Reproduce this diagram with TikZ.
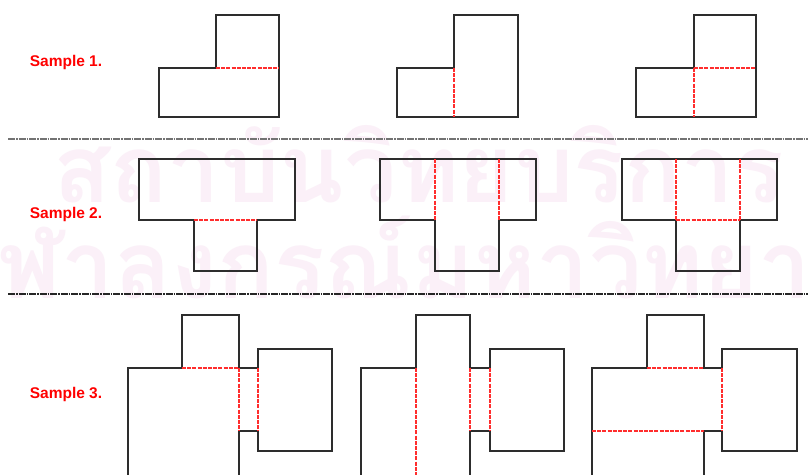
\documentclass[tikz,border=0pt]{standalone}
\usepackage{fontspec}
\setmainfont{Liberation Sans}
\newfontfamily\thaifont[Script=Thai]{Loma}
\definecolor{wmpink}{RGB}{251,240,248}
\definecolor{edge}{RGB}{45,45,45}
\definecolor{foldred}{RGB}{255,45,45}

\begin{document}
\begin{tikzpicture}[x=1pt, y=-1pt,
  outline/.style={draw=edge, line width=1.4pt, line join=miter},
  fold/.style={draw=foldred, line width=1.4pt, dash pattern=on 4pt off 1.2pt},
  sep/.style={line width=1.6pt, dash pattern=on 7pt off 1pt on 1.5pt off 1pt},
  tag/.style={text=red, font=\fontsize{15.5}{16}\selectfont\bfseries},
  wm/.style={text=wmpink, font=\thaifont\bfseries\fontsize{94}{96}\selectfont, inner sep=0pt}]
\useasboundingbox (0,0) rectangle (808,474);
\clip (0,0) rectangle (808,474);
\fill[white] (0,0) rectangle (808,474);
\node[wm, anchor=base west] (wmtop) at (53,202) {สถาบันวิทยบริการ};
\node[wm, anchor=base west] (wmbot) at (-58,298) {จุฬาลงกรณ์มหาวิทยาลัย};
\node[tag] (s1) at (66,62) {Sample 1.};
\node[tag] (s2) at (66,214) {Sample 2.};
\node[tag] (s3) at (66,394) {Sample 3.};
\draw[sep, draw=black!55] (8,139) -- (808,139);
\draw[sep, draw=black!85] (8,294) -- (808,294);
% sample 1
\draw[outline] (159,68) -- (216,68) -- (216,15) -- (279,15) -- (279,117) -- (159,117) -- cycle;
\draw[fold] (216,68) -- (279,68);
\draw[outline] (397,68) -- (454,68) -- (454,15) -- (518,15) -- (518,117) -- (397,117) -- cycle;
\draw[fold] (454,68) -- (454,117);
\draw[outline] (636,68) -- (694,68) -- (694,15) -- (756,15) -- (756,117) -- (636,117) -- cycle;
\draw[fold] (694,68) -- (756,68) (694,68) -- (694,117);
% sample 2
\draw[outline] (139,159) -- (295,159) -- (295,220) -- (257,220) -- (257,271) -- (194,271) -- (194,220) -- (139,220) -- cycle;
\draw[fold] (194,220) -- (257,220);
\draw[outline] (380,159) -- (536,159) -- (536,220) -- (499,220) -- (499,271) -- (435,271) -- (435,220) -- (380,220) -- cycle;
\draw[fold] (435,159) -- (435,220) (499,159) -- (499,220);
\draw[outline] (622,159) -- (777,159) -- (777,220) -- (740,220) -- (740,271) -- (676,271) -- (676,220) -- (622,220) -- cycle;
\draw[fold] (676,159) -- (676,220) (740,159) -- (740,220) (676,220) -- (740,220);
% sample 3
\draw[outline] (128,480) -- (128,368) -- (182,368) -- (182,315) -- (239,315) -- (239,368) -- (258,368) -- (258,349) -- (332,349) -- (332,451) -- (258,451) -- (258,431) -- (239,431) -- (239,480);
\draw[fold] (182,368) -- (239,368) (239,368) -- (239,431) (258,368) -- (258,431);
\draw[outline] (361,480) -- (361,368) -- (416,368) -- (416,315) -- (470,315) -- (470,368) -- (490,368) -- (490,349) -- (564,349) -- (564,451) -- (490,451) -- (490,431) -- (470,431) -- (470,480);
\draw[fold] (416,368) -- (416,480) (470,368) -- (470,431) (490,368) -- (490,431);
\draw[outline] (592,480) -- (592,368) -- (647,368) -- (647,315) -- (704,315) -- (704,368) -- (722,368) -- (722,349) -- (797,349) -- (797,451) -- (722,451) -- (722,431) -- (704,431) -- (704,480);
\draw[fold] (647,368) -- (704,368) (722,368) -- (722,431) (592,431) -- (704,431);
\end{tikzpicture}
\end{document}
